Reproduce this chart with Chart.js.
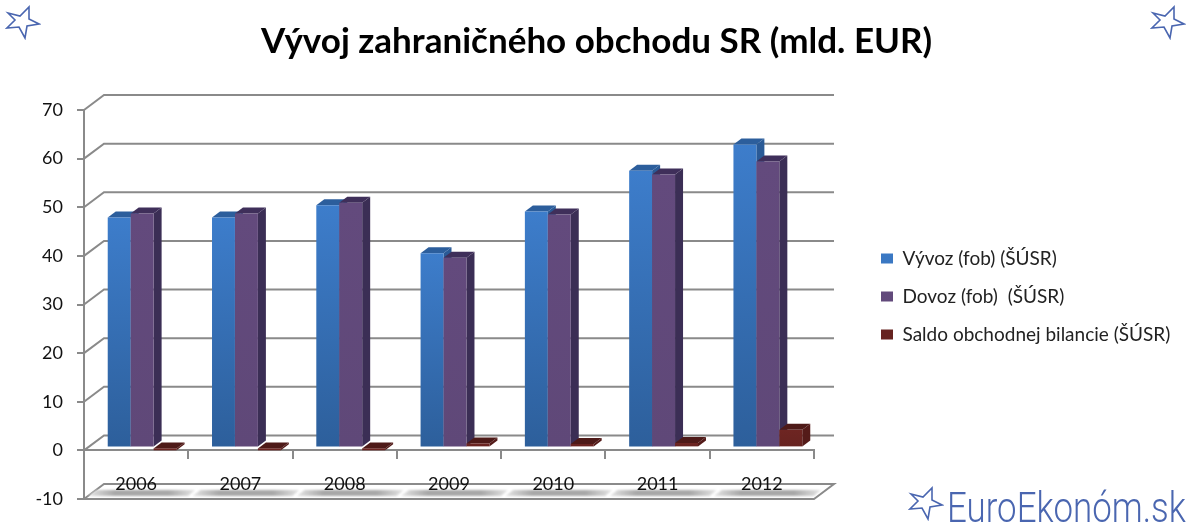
<!DOCTYPE html>
<html>
<head>
<meta charset="utf-8">
<title>Vývoj zahraničného obchodu SR</title>
<script src="https://cdn.jsdelivr.net/npm/chart.js@4"></script>
<style>
body { margin: 0; background: #fff; }
#wrap { position: relative; width: 1193px; height: 527px; overflow: hidden; }
#wrap svg { position: absolute; fill: none; stroke: #4a66b0; stroke-width: 1.6; }
#logo { position: absolute; left: 947px; top: 483px; font: 300 42px Roboto, sans-serif; color: #4a66b0; transform: scaleX(0.83); transform-origin: left top; white-space: nowrap; }
</style>
</head>
<body>
<div id="wrap">
    <canvas id="chart" width="1193" height="527"></canvas>
    <svg style="left:5px;top:4px" width="36" height="36" viewBox="0 0 36 36"><path d="M3 9 L15 12 L24 3 L24 15 L34 20 L22 22 L20 34 L14 23 L2 24 L10 16 Z"/></svg>
    <svg style="left:1150px;top:4px" width="36" height="36" viewBox="0 0 36 36"><path d="M3 9 L15 12 L24 3 L24 15 L34 20 L22 22 L20 34 L14 23 L2 24 L10 16 Z"/></svg>
    <svg style="left:908px;top:485px" width="36" height="36" viewBox="0 0 36 36"><path d="M3 9 L15 12 L24 3 L24 15 L34 20 L22 22 L20 34 L14 23 L2 24 L10 16 Z"/></svg>
    <div id="logo">EuroEkonóm.sk</div>
</div>
<script>
// Data
const years = ['2006', '2007', '2008', '2009', '2010', '2011', '2012'];
const vyvoz = [47.3, 47.3, 49.8, 39.9, 48.5, 56.9, 62.3];
const dovoz = [48.1, 48.1, 50.3, 39.0, 47.9, 56.1, 58.8];
const saldo = [-0.6, -0.6, -0.6, 0.8, 0.7, 0.9, 3.6];
const seriesNames = ['Vývoz (fob) (ŠÚSR)', 'Dovoz (fob)  (ŠÚSR)', 'Saldo obchodnej bilancie (ŠÚSR)'];

const lineGray = '#8a8a8a';
const wallDx = 20, wallDy = -15;   // offset of the back wall
const barDx = 6, barDy = -3;       // bars stand a little behind the front plane
const depthDx = 8, depthDy = -6;   // depth of one bar
const legendWidth = 379;           // space kept right of the plot

// front face: gradient over the height of each bar
function barFill(top, bottom, flat) {
    return ctx => {
        const { chart, parsed } = ctx;
        if (!chart.chartArea || !parsed) return flat;
        const y = chart.scales.y;
        const g = chart.ctx.createLinearGradient(0, y.getPixelForValue(parsed.y), 0, y.getPixelForValue(0));
        g.addColorStop(0, top);
        g.addColorStop(1, bottom);
        return g;
    };
}

function quad(c, color, pts) {
    c.fillStyle = color;
    c.beginPath();
    pts.forEach((p, i) => i ? c.lineTo(p[0], p[1]) : c.moveTo(p[0], p[1]));
    c.closePath();
    c.fill();
}

const walls = {
    id: 'walls',
    beforeLayout(chart) {
        const lg = chart.legend;
        const fit = lg.fit;
        lg.fit = function () {
            fit.call(this);
            this.width = legendWidth;
        };
    },
    afterLayout(chart) {
        // legend goes where the original has it
        chart.legend.left = 862;
        chart.legend.top += 47;
        chart.legend.bottom += 47;
    },
    beforeDatasetsDraw(chart) {
        const c = chart.ctx, y = chart.scales.y, x = chart.scales.x, a = chart.chartArea;
        c.save();
        c.strokeStyle = lineGray;
        c.lineWidth = 2;
        y.ticks.forEach(t => {
            const py = y.getPixelForValue(t.value);
            c.beginPath();
            c.moveTo(a.left, py);
            c.lineTo(a.left + wallDx, py + wallDy);
            c.lineTo(a.right + wallDx, py + wallDy);
            if (t.value === -10) {
                c.lineTo(a.right, py);
                c.lineTo(a.left, py);
            }
            c.stroke();
        });
        // floor shadows, faded towards both ends
        const floor = y.getPixelForValue(-10);
        c.filter = 'blur(1px)';
        years.forEach((yr, i) => {
            const cx = x.getPixelForValue(i);
            const g = c.createLinearGradient(cx - 48, 0, cx + 59, 0);
            g.addColorStop(0, '#e4e4e4');
            g.addColorStop(0.25, '#a8a8a8');
            g.addColorStop(0.75, '#a8a8a8');
            g.addColorStop(1, '#e4e4e4');
            quad(c, g, [
                [cx - 48, floor - 3], [cx - 40, floor - 9],
                [cx + 59, floor - 9], [cx + 52, floor - 3]
            ]);
        });
        c.filter = 'none';

        // bars, first series first so the later ones cover its side
        c.translate(barDx, barDy);
        chart.getSortedVisibleDatasetMetas().forEach(meta => {
            const sideCol = chart.data.datasets[meta.index].sideColor;
            const topCol = chart.data.datasets[meta.index].topColor;
            meta.data.forEach(el => {
                const left = el.x - el.width / 2, right = el.x + el.width / 2;
                const top = Math.min(el.y, el.base), bottom = Math.max(el.y, el.base);
                quad(c, sideCol, [
                    [right, top], [right + depthDx, top + depthDy],
                    [right + depthDx, bottom + depthDy], [right, bottom]
                ]);
                quad(c, topCol, [
                    [left, top], [left + depthDx, top + depthDy],
                    [right + depthDx, top + depthDy], [right, top]
                ]);
            });
            meta.controller.draw();
        });
        c.restore();
        return false;
    }
};

new Chart(document.getElementById('chart').getContext('2d'), {
    type: 'bar',
    data: {
        labels: years,
        datasets: [
            { label: seriesNames[0], data: vyvoz, backgroundColor: barFill('#3d7dcb', '#2d5f9b', '#3570b5'), sideColor: '#2a5a96', topColor: '#2c5e9c' },
            { label: seriesNames[1], data: dovoz, backgroundColor: barFill('#634a7d', '#5f4878', '#604a7b'), sideColor: '#3b2e55', topColor: '#3f2f5a' },
            { label: seriesNames[2], data: saldo, backgroundColor: barFill('#6e2522', '#662320', '#6a2422'), sideColor: '#541b19', topColor: '#4e1a18' }
        ]
    },
    options: {
        responsive: false,
        animation: false,
        datasets: { bar: { barPercentage: 1, categoryPercentage: 0.66 } },
        layout: { padding: { bottom: 28 } },
        plugins: {
            title: {
                display: true,
                text: 'Vývoj zahraničného obchodu SR (mld. EUR)',
                color: '#000',
                font: { family: 'Lato', size: 35, weight: 'bold' },
                padding: { top: 21, bottom: 47 }
            },
            legend: {
                position: 'right',
                labels: {
                    color: '#222',
                    font: { family: 'Lato', size: 19 },
                    boxWidth: 12,
                    boxHeight: 10,
                    padding: 19
                }
            },
            tooltip: { enabled: false }
        },
        scales: {
            x: {
                position: { y: 0 },
                grid: { drawOnChartArea: false, color: lineGray, lineWidth: 2, tickLength: 8 },
                border: { color: lineGray, width: 2 },
                ticks: { color: '#111', font: { family: 'Lato', size: 18 }, padding: 15, z: 1 }
            },
            y: {
                min: -10,
                max: 70,
                afterFit(scale) { scale.width = 84; },
                grid: { drawOnChartArea: false, color: lineGray, lineWidth: 2, tickLength: 7 },
                border: { color: lineGray, width: 2 },
                ticks: { stepSize: 10, color: '#111', font: { family: 'Lato', size: 18 }, padding: 14 }
            }
        }
    },
    plugins: [walls]
});
</script>
</body>
</html>
